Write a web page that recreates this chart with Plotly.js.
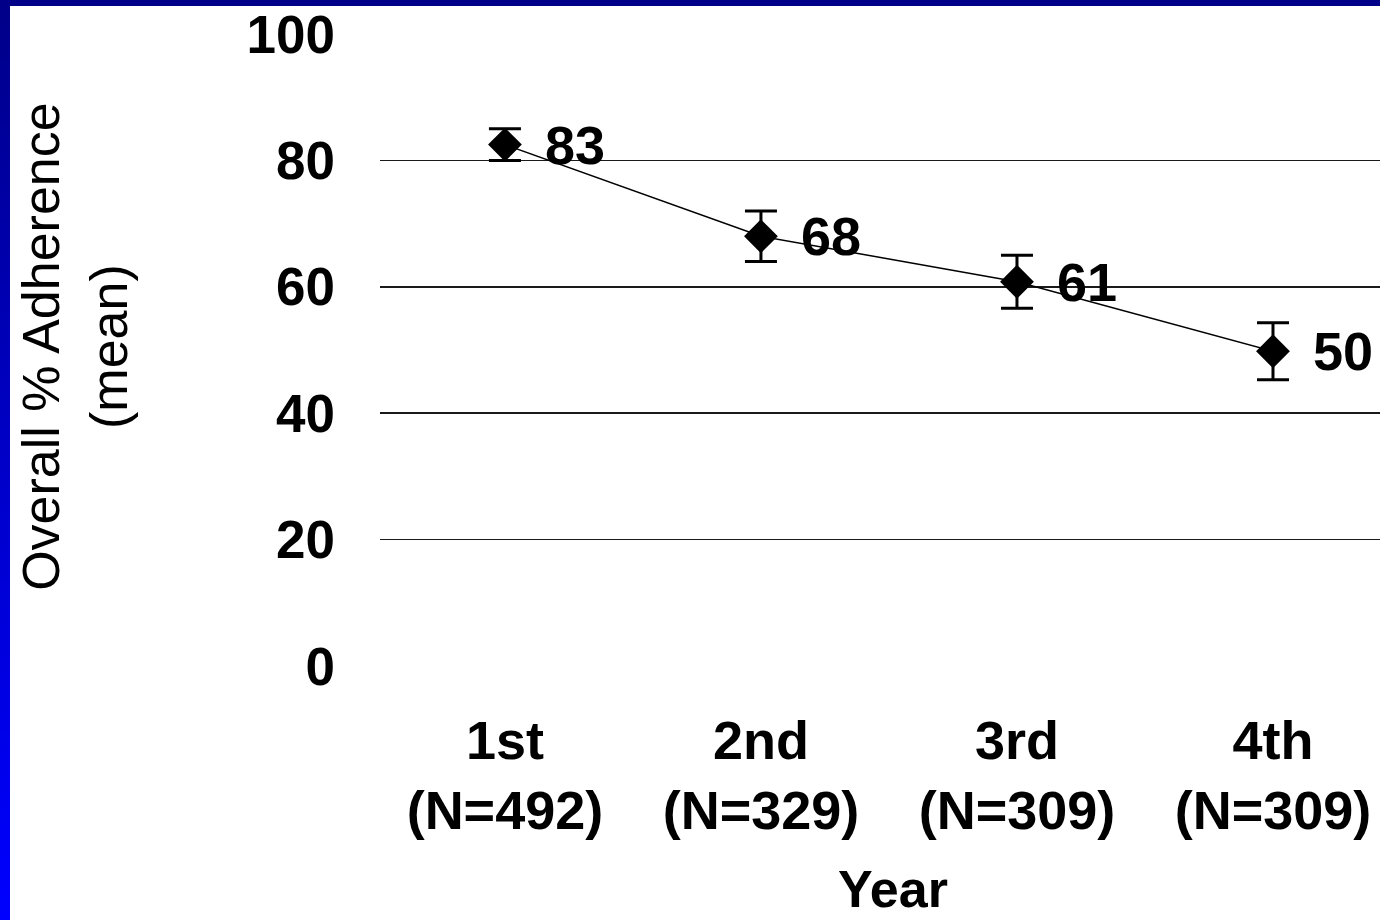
<!DOCTYPE html>
<html>
<head>
<meta charset="utf-8">
<script src="https://cdn.plot.ly/plotly-3.0.1.min.js"></script>
<style>
  html, body { margin: 0; padding: 0; width: 1380px; height: 920px; overflow: hidden;
    background: linear-gradient(to bottom, #000088 0%, #0000c8 50%, #0000ff 100%); }
  #chart { position: absolute; left: 10px; top: 6px; width: 1370px; height: 914px; background: #fff; }
</style>
</head>
<body>
<div id="chart"></div>
<script>
const categories = ["1st<br>(N=492)", "2nd<br>(N=329)", "3rd<br>(N=309)", "4th<br>(N=309)"];
const adherence = [82.5, 68, 60.8, 49.8];
const errorSize = [2.5, 4, 4.2, 4.5];
const valueLabels = ["83", "68", "61", "50"];
const yTickVals = [0, 20, 40, 60, 80, 100];
const gridVals = [20, 40, 60, 80];
const yTitle = "Overall % Adherence<br>(mean)";
const xTitle = "Year";

const FONT = "Liberation Sans, Arial, Helvetica, sans-serif";

const trace = {
  type: "scatter",
  mode: "lines+markers",
  x: categories,
  y: adherence,
  line: { color: "#000", width: 1.5 },
  marker: { symbol: "diamond", size: 26, color: "#000" },
  error_y: { type: "data", array: errorSize, visible: true, color: "#000", thickness: 3, width: 16 },
  hoverinfo: "skip",
  showlegend: false
};

const gridTrace = {
  type: "scatter", mode: "none", x: categories, y: adherence, yaxis: "y2",
  hoverinfo: "skip", showlegend: false
};

const annotations = categories.map((c, i) => ({
  x: c, y: adherence[i], xref: "x", yref: "y",
  text: "<b>" + valueLabels[i] + "</b>", showarrow: false,
  xanchor: "left", yanchor: "middle", xshift: 38, yshift: 0,
  font: { family: FONT, size: 54, color: "#000" }
}));

annotations.push({
  xref: "paper", yref: "paper", x: -0.305, y: 0.505,
  text: yTitle, showarrow: false, textangle: -90,
  xanchor: "center", yanchor: "middle", align: "center",
  font: { family: FONT, size: 52, color: "#000" }
});
annotations.push({
  xref: "paper", yref: "paper", x: 0.513, y: -0.353,
  text: "<b>" + xTitle + "</b>", showarrow: false,
  xanchor: "center", yanchor: "middle",
  font: { family: FONT, size: 52, color: "#000" }
});

const layout = {
  width: 1370, height: 914,
  paper_bgcolor: "#fff", plot_bgcolor: "rgba(0,0,0,0)",
  margin: { l: 370, r: 0, t: 28, b: 254, autoexpand: false },
  xaxis: {
    type: "category",
    range: [-0.488, 3.418],
    showgrid: false, zeroline: false, showline: false, ticks: "",
    tickfont: { family: FONT, size: 54, color: "#000", weight: "bold" },
    ticklabelstandoff: 38
  },
  yaxis: {
    range: [0, 100],
    tickvals: yTickVals,
    ticktext: yTickVals.map(String),
    showgrid: false, zeroline: false, showline: false, ticks: "",
    tickfont: { family: FONT, size: 53, color: "#000", weight: "bold" },
    ticklabelstandoff: 44,
    ticklabeloverflow: "allow"
  },
  yaxis2: {
    overlaying: "y", matches: "y", range: [0, 100],
    tickvals: gridVals, showticklabels: false, ticks: "",
    showgrid: true, gridcolor: "#1a1a1a", gridwidth: 1.6,
    zeroline: false, showline: false
  },
  annotations: annotations
};

Plotly.newPlot("chart", [gridTrace, trace], layout, { displayModeBar: false, staticPlot: true });
</script>
</body>
</html>
